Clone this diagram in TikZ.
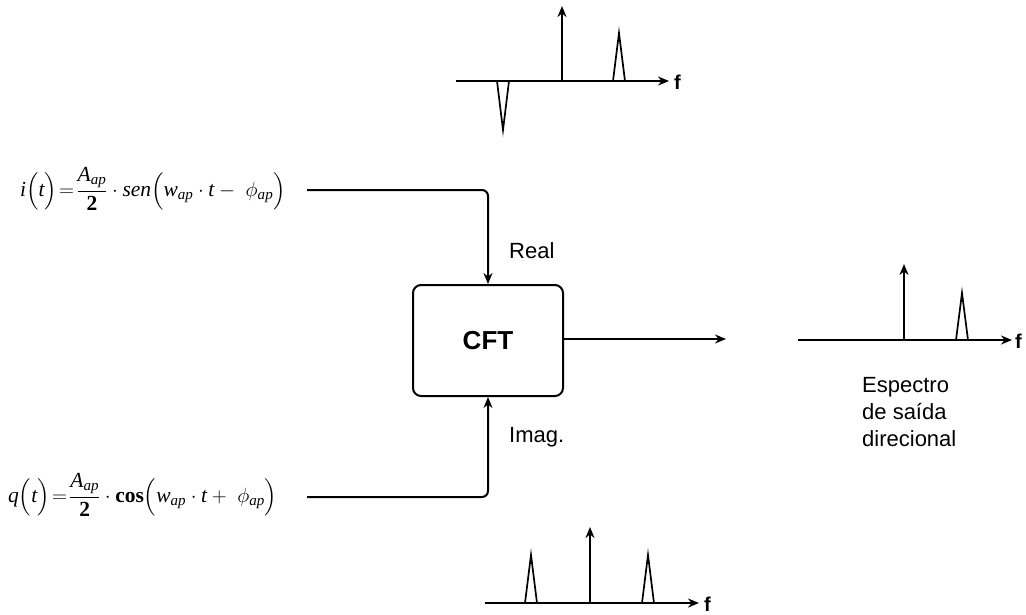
\documentclass[tikz,border=0pt]{standalone}
\usepackage{amsmath}
\usepackage{fontspec}
\setmainfont{Liberation Sans}
\newfontfamily\serif{Liberation Serif}
\usetikzlibrary{arrows.meta}
\newcommand\ti[1]{\text{\serif\itshape #1}}
\newcommand\tr[1]{\text{\serif #1}}
\newcommand\tb[1]{\text{\serif\bfseries #1}}
\tikzset{
  ln/.style={line width=2pt},
  arr/.style={ln,-{Stealth[length=11pt,width=9pt]}},
  peak/.style={line width=1.7pt, line join=miter},
  lbl/.style={font=\fontsize{22}{27}\selectfont, inner sep=0pt},
  fl/.style={font=\fontsize{20}{24}\selectfont\bfseries, inner sep=0pt},
  cftbox/.style={draw, line width=2pt, rounded corners=8pt, minimum width=150pt, minimum height=111pt, font=\fontsize{26}{30}\selectfont\bfseries},
  frm/.style={inner sep=0pt, font=\fontsize{21.5}{26}\selectfont}
}
\begin{document}
\begin{tikzpicture}[x=1pt,y=-1pt]
\useasboundingbox (0,0) rectangle (1026,614);
% formulas
\node[frm, anchor=west] (fi) at (20,189) {$\ti{i}\Bigl(\ti{t}\Bigr)\!=\!\dfrac{\ti{A}_{\ti{ap}}}{\tb{2}}\cdot \ti{sen}\Bigl(\ti{w}_{\ti{ap}}\cdot \ti{t}-\ \phi_{\ti{ap}}\Bigr)$};
\node[frm, anchor=west] (fq) at (8,495) {$\ti{q}\Bigl(\ti{t}\Bigr)\!=\!\dfrac{\ti{A}_{\ti{ap}}}{\tb{2}}\cdot \tb{cos}\Bigl(\ti{w}_{\ti{ap}}\cdot \ti{t}+\ \phi_{\ti{ap}}\Bigr)$};
% CFT block
\node[cftbox] (cft) at (488,340.5) {CFT};
\coordinate (i0) at (307,190);
\coordinate (q0) at (307,497);
\coordinate (out) at (726,339);
\draw[arr, rounded corners=6pt] (i0) -| (cft.north);
\draw[arr, rounded corners=6pt] (q0) -| (cft.south);
\draw[arr] (cft.east |- out) -- (out);
\node[lbl, anchor=west] (real) at (509,251) {Real};
\node[lbl, anchor=west] (imag) at (509,437) {Imag.};
% top spectrum
\coordinate (ta0) at (456,81);
\coordinate (ta1) at (669,81);
\draw[arr] (ta0) -- (ta1);
\node[fl, anchor=west] (tf) at (674,82) {f};
\coordinate (tv0) at (562,81);
\coordinate (tv1) at (562,6);
\draw[arr] (tv0) -- (tv1);
\draw[peak] (613,81) -- (619,33) -- (625,81);
\draw[peak] (497,81) -- (503,130) -- (509,81);
% bottom spectrum
\coordinate (ba0) at (485,603);
\coordinate (ba1) at (699,603);
\draw[arr] (ba0) -- (ba1);
\node[fl, anchor=west] (bf) at (704,604) {f};
\coordinate (bv0) at (590,603);
\coordinate (bv1) at (590,527);
\draw[arr] (bv0) -- (bv1);
\draw[peak] (525,603) -- (531,555) -- (537,603);
\draw[peak] (642,603) -- (648,555) -- (654,603);
% right spectrum
\coordinate (ra0) at (798,340);
\coordinate (ra1) at (1012,340);
\draw[arr] (ra0) -- (ra1);
\node[fl, anchor=west] (rf) at (1015,341) {f};
\coordinate (rv0) at (904,340);
\coordinate (rv1) at (904,264);
\draw[arr] (rv0) -- (rv1);
\draw[peak] (956,340) -- (962,293) -- (968,340);
\node[lbl, anchor=west, align=left] (txt) at (862,412) {Espectro\\de saída\\direcional};
\end{tikzpicture}
\end{document}
